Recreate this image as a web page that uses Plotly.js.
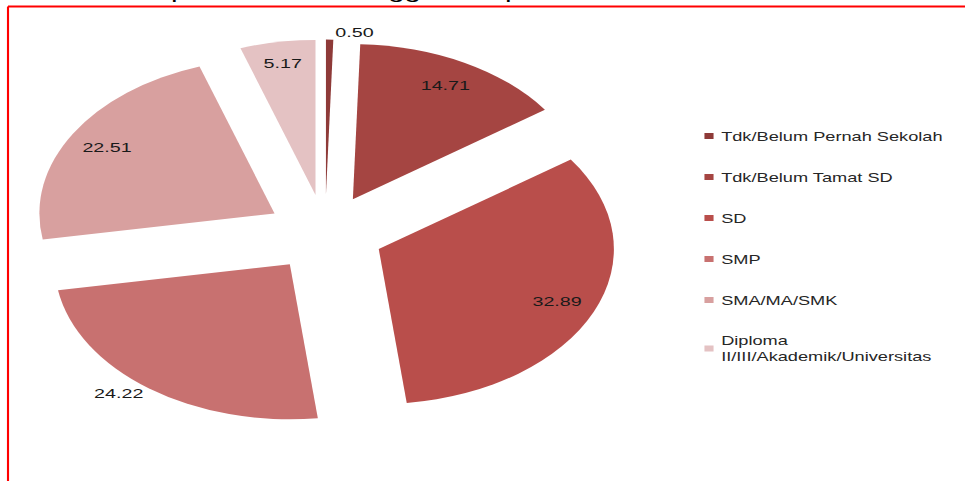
<!DOCTYPE html>
<html>
<head>
<meta charset="utf-8">
<script src="https://cdn.plot.ly/plotly-3.0.1.min.js"></script>
<style>
html, body { margin: 0; padding: 0; background: #ffffff; overflow: hidden; }
#wrap { width: 965px; height: 481px; position: relative; overflow: hidden; }
#chart { width: 636px; height: 481px; transform: scaleX(1.5173); transform-origin: 0 0; }
#chart g.legendpoints { transform: translateX(12px); }
</style>
</head>
<body>
<div id="wrap"><div id="chart"></div></div>
<script>
// ---- data ----
const categories = [
  "Tdk/Belum Pernah Sekolah",
  "Tdk/Belum Tamat SD",
  "SD",
  "SMP",
  "SMA/MA/SMK",
  "Diploma<br>II/III/Akademik/Universitas"
];
const values = [0.50, 14.71, 32.89, 24.22, 22.51, 5.17];
const sliceColors = ["#8E3A38", "#A54542", "#B94E4B", "#C87170", "#D8A09F", "#E4C2C3"];
// labels drawn by the main pie (small / outside ones)
const mainLabelPositions = ["outside", "none", "none", "outside", "none", "inside"];
// labels drawn by the label ring (large slices, placed near the rim)
const ringLabelPositions = ["none", "inside", "inside", "none", "inside", "none"];
const pulls = [0.25, 0.25, 0.25, 0.25, 0.25, 0.25];
const titleText = "Status pendidikan tertinggi Kabupaten OKU Selatan tahun 2010";

const pieDomain = { x: [0.0322, 0.6414], y: [0.1122, 0.9178] };
const labelFont = { family: "Liberation Sans, Arial, sans-serif", size: 13, color: "#1a1a1a" };

// ---- traces ----
const pieTrace = {
  type: "pie",
  labels: categories,
  values: values,
  sort: false,
  direction: "clockwise",
  rotation: 0,
  pull: pulls,
  marker: { colors: sliceColors, line: { width: 0 } },
  texttemplate: "%{value:.2f}",
  textposition: mainLabelPositions,
  insidetextorientation: "horizontal",
  textfont: labelFont,
  domain: pieDomain,
  showlegend: false,
  hoverinfo: "skip"
};

// transparent ring over the same pie, only used to place value labels near the rim
const labelRing = {
  type: "pie",
  labels: categories,
  values: values,
  sort: false,
  direction: "clockwise",
  rotation: 0,
  pull: pulls,
  hole: 0.66,
  marker: { colors: sliceColors.map(() => "rgba(0,0,0,0)"), line: { width: 0 } },
  texttemplate: "%{value:.2f}",
  textposition: ringLabelPositions,
  insidetextorientation: "horizontal",
  textfont: labelFont,
  domain: pieDomain,
  showlegend: false,
  hoverinfo: "skip"
};

const legendTraces = categories.map((name, i) => ({
  type: "scatter",
  mode: "markers",
  x: [null],
  y: [null],
  name: name,
  legendgroup: "g" + i,
  showlegend: true,
  marker: { symbol: "square", size: 6, color: sliceColors[i] },
  hoverinfo: "skip"
}));

const layout = {
  width: 636,
  height: 481,
  margin: { l: 0, r: 0, t: 0, b: 0 },
  paper_bgcolor: "#ffffff",
  plot_bgcolor: "#ffffff",
  xaxis: { visible: false, range: [0, 1] },
  yaxis: { visible: false, range: [0, 1] },
  showlegend: true,
  legend: {
    x: 0.6844, xanchor: "left",
    y: 0.7474, yanchor: "top",
    traceorder: "grouped",
    tracegroupgap: 22,
    bgcolor: "rgba(0,0,0,0)",
    borderwidth: 0,
    font: { family: "Liberation Sans, Arial, sans-serif", size: 12, color: "#262626" }
  },
  annotations: [{
    text: titleText,
    xref: "paper", yref: "paper",
    x: 0.079, xanchor: "left",
    y: 1.0182, yanchor: "middle",
    showarrow: false,
    font: { family: "Liberation Sans, Arial, sans-serif", size: 19.5, color: "#000000" }
  }],
  shapes: [
    { type: "line", xref: "paper", yref: "paper", x0: 0.0083, x1: 1.0, y0: 0.9865, y1: 0.9865,
      line: { color: "#FF0000", width: 2 } },
    { type: "line", xref: "paper", yref: "paper", x0: 0.0083, x1: 0.0083, y0: 0.9865, y1: 0,
      line: { color: "#FF0000", width: 1.4 } }
  ]
};

Plotly.newPlot("chart", [pieTrace, labelRing].concat(legendTraces), layout, { staticPlot: true, displayModeBar: false });
</script>
</body>
</html>
